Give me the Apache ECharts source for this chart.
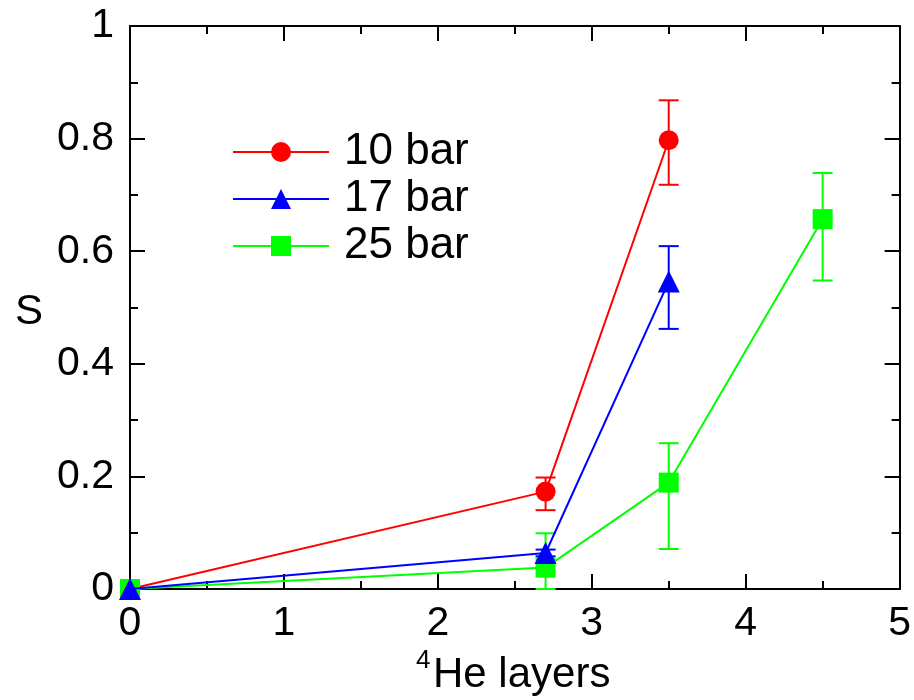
<!DOCTYPE html>
<html>
<head>
<meta charset="utf-8">
<script src="https://cdn.jsdelivr.net/npm/echarts@6/dist/echarts.min.js"></script>
<style>html,body{margin:0;padding:0;background:#fff}#c{width:914px;height:700px}</style>
</head>
<body>
<div id="c"></div>
<script>
// ---- data ----
var seriesNames = ['10 bar', '17 bar', '25 bar'];
var x10 = [0, 2.7, 3.5];
var y10 = [0, 0.173, 0.797];
var err10X = [2.7, 3.5];
var err10Low = [0.140, 0.718];
var err10High = [0.198, 0.868];

var x17 = [0, 2.7, 3.5];
var y17 = [0, 0.064, 0.546];
var err17X = [2.7, 3.5];
var err17Low = [0.058, 0.462];
var err17High = [0.070, 0.609];

var x25 = [0, 2.7, 3.5, 4.5];
var y25 = [0, 0.038, 0.189, 0.657];
var err25X = [2.7, 3.5, 4.5];
var err25Low = [0.0, 0.071, 0.548];
var err25High = [0.099, 0.259, 0.739];

var xTicks = [0, 1, 2, 3, 4, 5];
var yTicks = [0, 0.2, 0.4, 0.6, 0.8, 1];

// ---- build ----
function pairs(xs, ys) { return xs.map(function (x, i) { return [x, ys[i]]; }); }
function triples(xs, lo, hi) { return xs.map(function (x, i) { return [x, lo[i], hi[i]]; }); }

var FONT = 'Arial, "Liberation Sans", sans-serif';
var colors = ['#ff0000', '#0000ff', '#00ff00'];

function errSeries(name, data, color, z) {
  return {
    type: 'custom', name: name, data: data, z: z, silent: true,
    renderItem: function (params, api) {
      var x = api.value(0), lo = api.value(1), hi = api.value(2);
      var p1 = api.coord([x, hi]), p2 = api.coord([x, lo]);
      var w = 10;
      var st = { stroke: color, lineWidth: 2, fill: null };
      return {
        type: 'group', children: [
          { type: 'line', shape: { x1: p1[0], y1: p1[1], x2: p2[0], y2: p2[1] }, style: st },
          { type: 'line', shape: { x1: p1[0] - w, y1: p1[1], x2: p1[0] + w, y2: p1[1] }, style: st },
          { type: 'line', shape: { x1: p2[0] - w, y1: p2[1], x2: p2[0] + w, y2: p2[1] }, style: st }
        ]
      };
    }
  };
}

function lineSeries(name, data, color, symbol, size, z) {
  return {
    type: 'line', name: name, data: data, z: z, clip: false,
    symbol: symbol, symbolSize: size, showAllSymbol: true,
    lineStyle: { color: color, width: 2 },
    itemStyle: { color: color },
    emphasis: { disabled: true }
  };
}

var axisCommon = {
  axisLine: { show: true, onZero: false, lineStyle: { color: '#000', width: 2 } },
  axisTick: { show: true, inside: true, length: 15, lineStyle: { color: '#000', width: 2 } },
  minorTick: { show: true, splitNumber: 2, length: 8, lineStyle: { color: '#000', width: 2 } },
  splitLine: { show: false }
};

function xAxisDef(pos, showLabel) {
  return Object.assign({
    type: 'value', position: pos, min: xTicks[0], max: xTicks[xTicks.length - 1], interval: 1,
    axisLabel: { show: showLabel, fontSize: 41, color: '#000', fontFamily: FONT, margin: 14 }
  }, axisCommon);
}
function yAxisDef(pos, showLabel) {
  return Object.assign({
    type: 'value', position: pos, min: yTicks[0], max: yTicks[yTicks.length - 1], interval: 0.2,
    axisLabel: { show: showLabel, fontSize: 41, color: '#000', fontFamily: FONT, margin: 16 }
  }, axisCommon);
}

var chart = echarts.init(document.getElementById('c'), null, { renderer: 'canvas' });
chart.setOption({
  animation: false,
  backgroundColor: '#fff',
  grid: { left: 130, top: 26, right: 12, bottom: 111, containLabel: false },
  xAxis: [xAxisDef('bottom', true), xAxisDef('top', false)],
  yAxis: [yAxisDef('left', true), yAxisDef('right', false)],
  legend: {
    data: seriesNames,
    orient: 'vertical', left: 232, top: 130, padding: 0,
    itemWidth: 96, itemHeight: 25, itemGap: 3,
    textStyle: { fontSize: 44, lineHeight: 44, color: '#000', fontFamily: FONT, padding: [0, 0, 0, 10] },
    selectedMode: false
  },
  series: [
    errSeries('e10', triples(err10X, err10Low, err10High), colors[0], 1),
    errSeries('e17', triples(err17X, err17Low, err17High), colors[1], 1),
    errSeries('e25', triples(err25X, err25Low, err25High), colors[2], 1),
    lineSeries(seriesNames[0], pairs(x10, y10), colors[0], 'circle', 20, 2),
    lineSeries(seriesNames[2], pairs(x25, y25), colors[2], 'rect', 20, 3),
    lineSeries(seriesNames[1], pairs(x17, y17), colors[1], 'triangle', 22, 4)
  ],
  graphic: [
    { type: 'text', left: 15, top: 291, style: { text: 'S', fontSize: 42, fill: '#000', font: '42px ' + FONT } },
    { type: 'text', x: 416, y: 661, style: { text: '4', font: '26px ' + FONT, fill: '#000', textVerticalAlign: 'middle' } },
    { type: 'text', x: 433, y: 675, style: { text: 'He layers', font: '42px ' + FONT, fill: '#000', textVerticalAlign: 'middle' } }
  ]
});
</script>
</body>
</html>
